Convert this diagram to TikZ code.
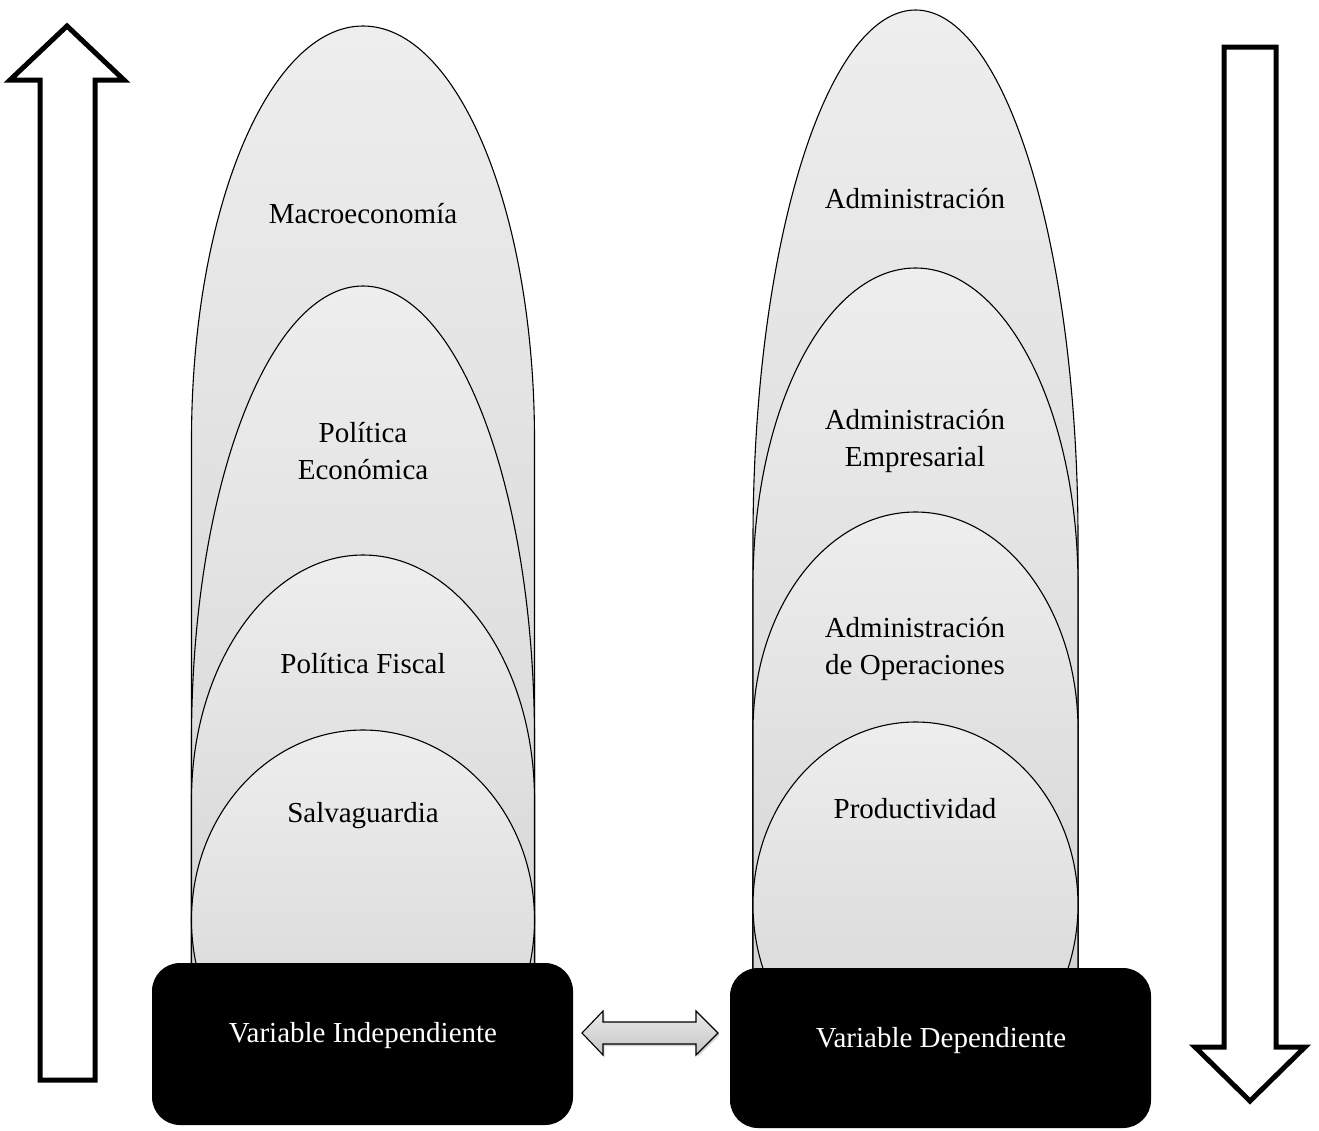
\documentclass[tikz,border=0pt]{standalone}
\usepackage{fontspec}
\setmainfont{Liberation Serif}
\usepackage{xcolor}
\usetikzlibrary{shadows}
\definecolor{shtop}{HTML}{EEEEEE}
\definecolor{shbot}{HTML}{D3D3D3}
\definecolor{linktop}{HTML}{EBEBEB}
\definecolor{linkbot}{HTML}{C4C4C4}
\tikzset{
  ring/.style={draw=black, line width=1.1pt, top color=shtop, bottom color=shbot},
  lab/.style={text=black, font=\fontsize{29}{37}\selectfont, align=center, inner sep=0pt},
  varbox/.style={fill=black, rounded corners=28pt, inner sep=0pt},
  boxlab/.style={lab, text=white, anchor=base},
  bigarrow/.style={draw=black, fill=white, line width=5pt, line join=miter},
  link/.style={draw=black, line width=1.1pt, top color=linktop, bottom color=linkbot,
    drop shadow={opacity=0.35, shadow xshift=1.5pt, shadow yshift=-2pt}},
}
\begin{document}
\begin{tikzpicture}[x=1pt,y=-1pt]
  \useasboundingbox (0,0) rectangle (1319,1130);
  \fill[white] (0,0) rectangle (1319,1130);

  % left stack
  \begin{scope}
    \clip (0,0) rectangle (1319,966);
    \foreach \cy/\ry in {440/414,740/454,800/245}
      \path[ring] (191.5,966) -- (191.5,\cy)
        arc[start angle=180, end angle=0, x radius=171.5pt, y radius=\ry pt]
        -- (534.5,966) -- cycle;
    \path[ring] (363,920) ellipse [x radius=171.5pt, y radius=190pt];
  \end{scope}
  % right stack
  \begin{scope}
    \clip (0,0) rectangle (1319,971);
    \foreach \cy/\ry in {540/530,585/317,730/218}
      \path[ring] (753,971) -- (753,\cy)
        arc[start angle=180, end angle=0, x radius=162.5pt, y radius=\ry pt]
        -- (1078,971) -- cycle;
    \path[ring] (915.5,905) ellipse [x radius=162.5pt, y radius=183pt];
  \end{scope}

  \node[lab, anchor=base] (macro) at (363,223) {Macroeconomía};
  \node[lab] (poleco) at (363,451) {Política\\Económica};
  \node[lab, anchor=base] (polfis) at (363,673) {Política Fiscal};
  \node[lab, anchor=base] (salva) at (363,822) {Salvaguardia};

  \node[lab, anchor=base] (admin) at (915,208) {Administración};
  \node[lab] (admemp) at (915,441) {Administración\\Empresarial};
  \node[lab] (admope) at (915,649) {Administración\\de Operaciones};
  \node[lab, anchor=base] (produ) at (915,818) {Productividad};

  % variable boxes
  \node[varbox, minimum width=421pt, minimum height=162pt] (indep) at (362.5,1044) {};
  \node[varbox, minimum width=421pt, minimum height=160pt] (dep) at (940.5,1048) {};
  \node[boxlab] (indeplab) at (363,1042) {Variable Independiente};
  \node[boxlab] (deplab) at (941,1047) {Variable Dependiente};

  % link between the two
  \path[link] (582,1033) -- (603,1011) -- (603,1022) -- (696,1022) -- (696,1011)
    -- (718,1033) -- (696,1055) -- (696,1044) -- (603,1044) -- (603,1055) -- cycle;

  % big side arrows
  \draw[bigarrow] (40,1080) -- (40,80) -- (10,80) -- (67,26) -- (124,80)
    -- (95,80) -- (95,1080) -- cycle;
  \draw[bigarrow] (1224,47) -- (1276,47) -- (1276,1047) -- (1305,1047)
    -- (1250,1101) -- (1195,1047) -- (1224,1047) -- cycle;
\end{tikzpicture}
\end{document}
